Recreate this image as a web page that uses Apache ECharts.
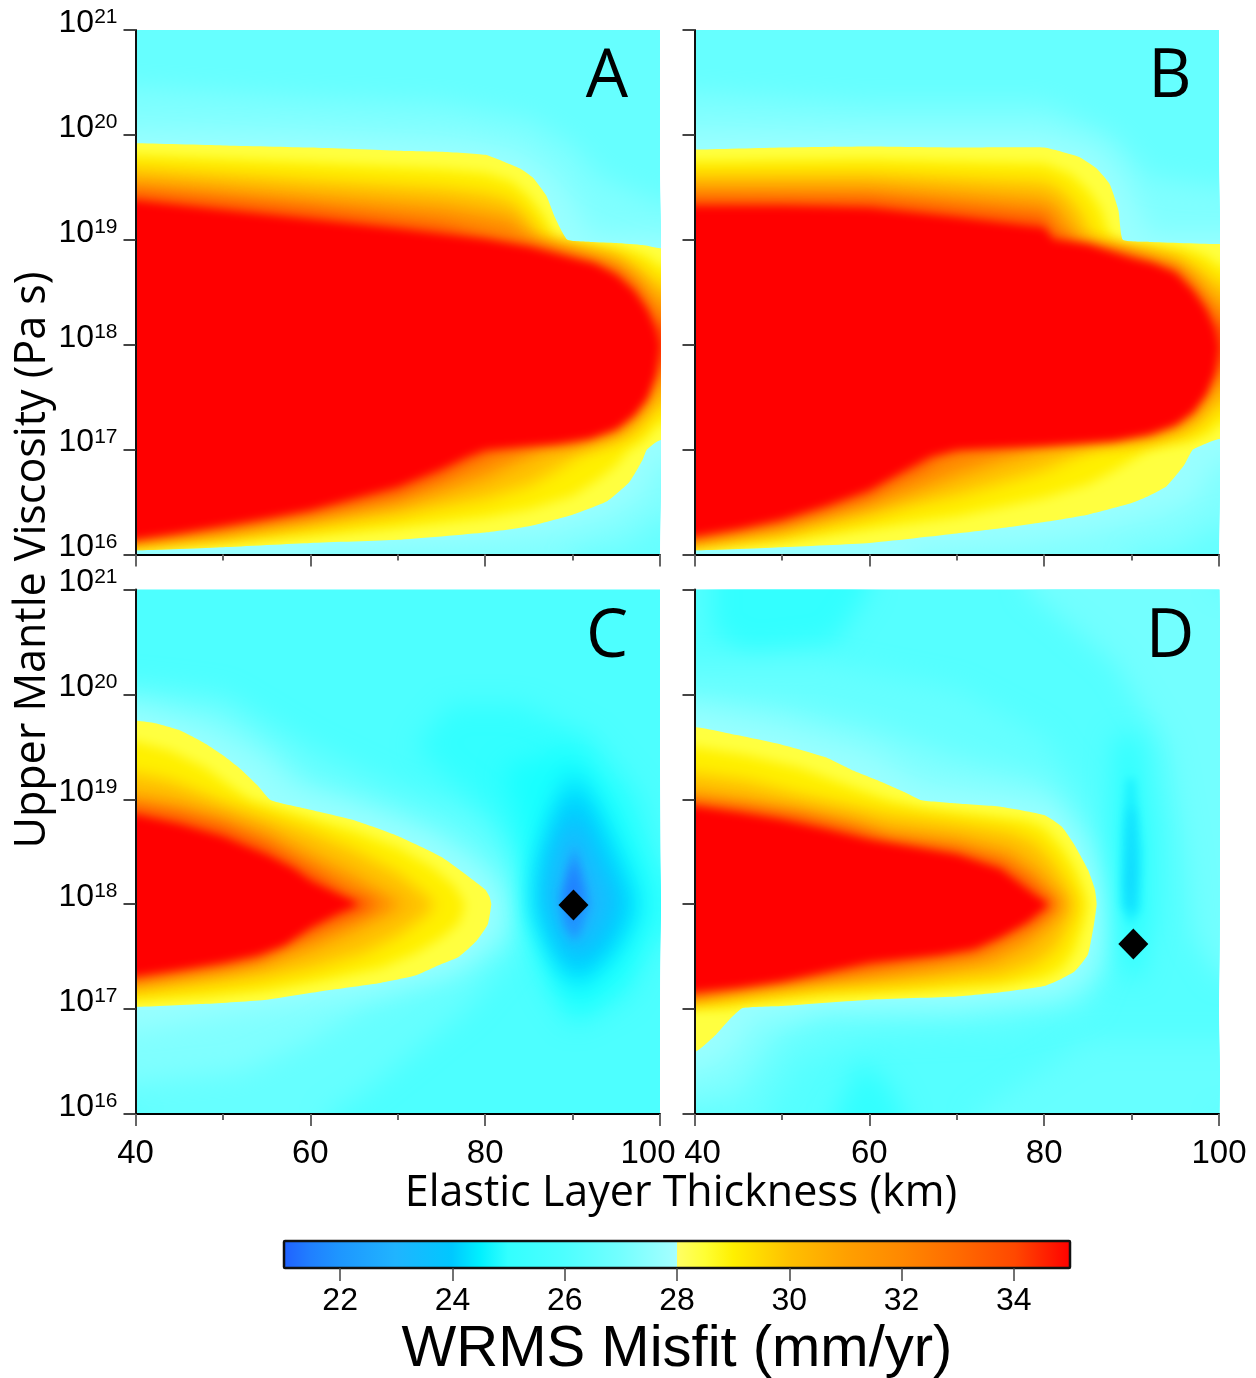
<!DOCTYPE html>
<html><head><meta charset="utf-8">
<style>html,body{margin:0;padding:0;background:#fff}#c{width:1256px;height:1378px}</style>
<script src="https://cdn.jsdelivr.net/npm/echarts@6/dist/echarts.min.js"></script>
</head><body><div id="c"></div>
<script>
// Contours: flat lists of thickness (km), log10 viscosity
const A_bg='#66ffff', B_bg='#66ffff', C_bg='#4dffff', D_bg='#55ffff';

// ----- Panel A
const A_cool=[
 ['#80ffff',[40,20.45,60,20.35,75,20.3,85,20.15,90,19.9,93,19.6,100,19.35,100,16.35,96,16.1,90,16,40,16]],
 ['#99ffff',[40,20.05,60,20.02,78,19.95,84,19.85,88,19.6,90.5,19.3,92,19.05,100,19.03,100,16.9,98,16.55,94,16.35,88,16.2,80,16.12,60,16,40,16]]
];
const A_28=[40,19.92,50,19.9,60,19.88,70,19.85,75,19.84,80,19.81,82,19.75,84,19.68,85.5,19.59,87,19.42,88,19.21,89.4,19,92,18.98,95,18.97,98,18.95,100,18.92,100,17.09,98.5,17,98,16.9,96.5,16.69,94,16.51,90,16.38,85,16.27,80,16.21,70,16.14,60,16.11,50,16.07,40,16.04];
const A_29=[40,19.81,60,19.74,75,19.68,80,19.64,83,19.56,85,19.42,87,19.2,88,19,92,18.96,96,18.92,98.5,18.85,100,18.75,100,17.25,98,17.07,96.5,17,95,16.85,93,16.72,90,16.56,85,16.43,80,16.35,70,16.25,60,16.17,50,16.11,40,16.06];
const A_30=[40,19.69,60,19.58,75,19.5,80,19.45,83,19.38,85,19.22,86.5,19.02,90,18.94,95,18.86,98,18.72,100,18.58,100,17.42,97,17.15,94,17.05,91,16.96,88,16.8,85,16.66,80,16.53,75,16.45,70,16.37,60,16.26,50,16.16,40,16.09];
const A_32=[40,19.56,60,19.42,75,19.32,80,19.25,83,19.2,85,19.05,87,18.97,92,18.88,95,18.8,97,18.68,98.5,18.55,100,18.4,100,17.62,98.5,17.4,97,17.27,95,17.14,92,17.07,87,17.02,84,16.9,80,16.74,75,16.6,70,16.48,60,16.33,50,16.2,40,16.11];
const A_34=[40,19.45,60,19.29,75,19.14,80,19.05,83,19,87,18.93,90,18.85,93,18.77,95,18.7,97,18.56,98.5,18.4,99.5,18.25,100,18.2,100,17.8,99.5,17.75,98.5,17.53,97,17.36,95,17.22,90,17.07,85,17.03,81,16.98,78,16.87,75,16.74,70,16.58,60,16.39,50,16.25,40,16.14];
const A_35=[40,19.37,50,19.28,60,19.19,70,19.1,80,19,85,18.93,90,18.82,92.5,18.77,95,18.66,97,18.51,98.5,18.33,99.5,18.15,100,18,99.5,17.71,98.5,17.49,97,17.33,95,17.2,92,17.11,88,17.06,85,17.04,80,17,78,16.94,75,16.82,70,16.65,65,16.54,60,16.43,55,16.35,50,16.28,45,16.21,40,16.15];

// ----- Panel B
const B_cool=[
 ['#80ffff',[40,20.4,60,20.3,80,20.3,88,20,92,19.6,100,19.5,100,16.3,95,16.05,90,16,40,16]],
 ['#99ffff',[40,20.05,60,20.03,80,20.03,86,19.88,89,19.6,91,19.25,92,19.05,100,19.05,100,16.9,97,16.5,92,16.35,85,16.2,78,16.1,65,16,40,16]]
];
const B_28=[40,19.86,50,19.88,60,19.89,70,19.88,80,19.88,82,19.84,84,19.79,86,19.68,87.5,19.53,88.5,19.28,89,19,92,18.98,100,18.96,100,17.1,98,17.04,97,17,96,16.85,94,16.65,92,16.56,90,16.49,85,16.38,80,16.31,75,16.25,70,16.2,60,16.11,50,16.07,40,16.04];
const B_29=[40,19.75,60,19.77,80,19.73,83,19.63,85,19.48,86.5,19.3,87.5,19.05,89,18.96,92,18.95,96,18.92,98.5,18.85,100,18.75,100,17.25,99,17.15,97,17.08,94,17.04,92,17,90,16.9,88,16.8,85,16.67,80,16.54,70,16.36,60,16.24,50,16.12,40,16.06];
const B_30=[40,19.63,60,19.64,80,19.56,82,19.48,84,19.3,85.5,19.05,87,18.95,90,18.92,95,18.85,98,18.72,100,18.58,100,17.42,98,17.25,96,17.15,92,17.08,86,17.02,83,16.92,80,16.8,75,16.68,70,16.56,65,16.47,60,16.36,55,16.27,50,16.18,40,16.09];
const B_32=[40,19.51,60,19.51,80,19.38,81.5,19.3,83,19.12,84,18.98,88,18.93,92,18.86,95,18.78,97,18.66,98.5,18.52,100,18.38,100,17.62,98.5,17.44,97,17.3,95,17.2,92,17.12,88,17.08,80,17.02,75,16.9,70,16.76,65,16.6,60,16.46,55,16.36,50,16.25,40,16.12];
const B_34=[40,19.4,60,19.39,80,19.22,81,19.08,83,19,87,18.92,90,18.85,93,18.76,95,18.72,97,18.55,98.5,18.4,100,18.2,100,17.8,98.5,17.56,97,17.39,95,17.26,92,17.17,88,17.11,80,17.06,71,17,68,16.93,66,16.82,63,16.7,60,16.56,55,16.42,50,16.3,40,16.15];
const B_35=[40,19.32,50,19.32,60,19.3,70,19.21,78,19.13,80,19.11,81,19,85,18.95,90,18.82,92.5,18.77,95,18.68,97,18.51,98.5,18.33,99.5,18.15,100,17.98,99.5,17.73,98.5,17.53,97,17.36,95,17.24,92,17.15,88,17.09,80,17.04,70,17,67,16.94,65,16.85,60,16.62,55,16.47,50,16.34,45,16.25,40,16.18];

// ----- Panel C
const C_cool=[
 ['#66ffff',[40,20.1,50,20,60,19.5,70,19.1,78,18.9,84,18.4,85,18,84,17.6,78,17,72,16.6,66,16.2,62,16,40,16]],
 ['#80ffff',[40,19.95,50,19.8,56,19.45,60,19.15,70,18.85,78,18.5,82.5,18.1,82,17.7,76,17.3,66,17,60,16.7,52,16.4,40,16.3]],
 ['#99ffff',[40,19.85,48,19.65,54,19.4,58,19.1,66,18.9,74,18.65,80,18.3,82,18,81.5,17.7,77,17.4,68,17.2,58,17.05,50,16.95,40,16.8]],
 ['#33ffff',[76,19.9,84,19.9,92,19.6,98,19,100,18.3,100,17.7,96,17.1,90,16.85,87,17.2,85,17.9,84.3,18.4,82,18.8,76,19.2,72,19.5]],
 ['#1affff',[82,19.3,90,19.5,95,19,98.5,18.3,98.8,17.9,96,17.3,90.5,16.95,88,17.3,85.5,17.9,85,18.5]],
 ['#00e0ff',[90,19.3,93,18.9,96,18.35,97.5,18,96,17.7,93,17.4,90.3,17.2,88,17.5,86,17.9,86,18.3,87.5,18.8]],
 ['#00c8ff',[90,19.1,92.5,18.7,95,18.2,96,18,94,17.6,90.3,17.35,88,17.6,86.5,18,87,18.45,88.5,18.8]],
 ['#20b8ff',[90,18.85,92,18.5,94.5,18.05,93,17.75,90.2,17.5,88.5,17.75,87,18.05,88,18.45]],
 ['#2098ff',[90.2,18.55,91.5,18.2,92,18,91,17.75,90.2,17.65,89,17.8,88.5,18.05,89.3,18.3]],
 ['#2080ff',[90.1,18.4,91,18.1,90,17.8,89.2,18.1]]
];
const C_28=[40,19.75,42,19.73,45,19.66,48,19.53,50,19.42,52,19.29,54,19.13,55.5,18.99,60,18.9,65,18.8,70,18.65,75,18.45,78,18.27,80,18.14,80.5,18.07,80.7,18,80.3,17.81,79,17.65,77,17.5,75,17.43,72,17.32,68,17.25,62,17.18,55,17.09,48,17.05,40,17.02];
const C_29=[40,19.55,44,19.46,48,19.3,51,19.12,53,19,60,18.82,65,18.7,70,18.54,74,18.35,76.5,18.17,77.7,18,77,17.82,75,17.68,72,17.53,68,17.39,62,17.28,55,17.17,48,17.11,40,17.07];
const C_30=[40,19.25,44,19.18,48,19.05,50,18.98,55,18.84,60,18.7,65,18.52,70,18.3,73,18.1,74.3,18,73,17.88,70,17.7,66,17.53,60,17.38,54,17.28,48,17.22,40,17.15];
const C_32=[40,19.03,45,18.96,50,18.85,55,18.7,60,18.48,65,18.27,69,18.07,70.6,18,68,17.88,64,17.72,60,17.58,55,17.44,50,17.36,45,17.3,40,17.24];
const C_34=[40,18.93,45,18.85,50,18.74,55,18.57,60,18.33,64,18.13,67.6,18,65,17.9,62,17.8,58,17.64,54,17.48,50,17.41,45,17.35,40,17.28];
const C_35=[40,18.85,45,18.76,50,18.64,55,18.47,58,18.34,60,18.22,62,18.14,65,18.02,65.5,18,63,17.91,60,17.78,57,17.61,54,17.52,50,17.45,45,17.38,40,17.32];

// ----- Panel D
const D_cool=[
 ['#73ffff',[78,21,100,21,100,17.3,97,17.7,96,18.5,94,19.5,88,20.3]],
 ['#66ffff',[72,16,100,16,100,16.7,85,16.7]],
 ['#33ffff',[48,21,60,21,56,20.5,46,20.4,42,20.6,42,21]],
 ['#33ffff',[56,16,64,16,62,16.3,59,16.5]],
 ['#66ffff',[40,20.3,55,20.3,70,20.05,80,19.6,85,19,88,18.3,88,17.6,85,17,75,16.8,60,16.75,52,16.5,48,16,40,16]],
 ['#80ffff',[40,20,50,19.9,60,19.7,70,19.4,80,19.2,85,18.6,87.5,18,86.8,17.4,83,17.1,70,16.98,55,16.95,50,16.75,45,16.2,40,16.1]],
 ['#99ffff',[40,19.85,50,19.7,60,19.45,66,19.15,75,19.05,81,18.95,84,18.6,86.5,18.1,86.3,17.7,84.5,17.3,81,17.15,70,17.05,55,17.03,47,16.9,44,16.55,40,16.4]],
 ['#33ffff',[88,19.6,91,19.6,92.5,18.7,92.5,17.9,91,17.3,89,17.3,88,18,87.7,18.8]],
 ['#1af0ff',[89.5,19.2,90.3,19.2,91.2,18.5,91,17.95,89.8,17.8,88.8,18,88.9,18.7]],
 ['#10d8ff',[89.8,18.9,90.2,18.9,90.5,18.3,90.2,17.95,89.6,17.95,89.3,18.2]]
];
const D_28=[40,19.69,45,19.61,50,19.52,55,19.4,58,19.28,61,19.18,64,19.07,66,18.99,70,18.96,75,18.93,80,18.85,82,18.74,83.5,18.56,85,18.33,85.8,18.14,86,18,85.7,17.81,85,17.52,83.5,17.36,82,17.29,80,17.22,75,17.16,70,17.12,60,17.09,50,17.03,45.5,17.01,44,16.9,42.5,16.76,40,16.59];
const D_29=[40,19.5,46,19.42,52,19.3,58,19.12,62,19,66,18.92,72,18.86,78,18.8,80,18.73,82,18.55,83.5,18.35,84.5,18.15,85,18,84.5,17.8,83.5,17.55,82,17.38,80,17.29,75,17.22,65,17.16,55,17.11,47,17.05,44,17,40,17];
const D_30=[40,19.25,46,19.18,52,19.05,56,18.98,62,18.87,70,18.78,76,18.7,79,18.6,81,18.42,82.8,18.18,83.7,18,83,17.82,81.5,17.58,79,17.42,75,17.31,65,17.24,55,17.2,47,17.13,40,17.07];
const D_32=[40,19.05,46,18.98,52,18.9,58,18.8,62,18.7,70,18.62,76,18.5,79,18.33,81,18.15,82.5,18,81,17.84,78,17.62,74,17.46,68,17.38,60,17.3,52,17.24,46,17.17,40,17.1];
const D_34=[40,18.98,46,18.92,52,18.84,58,18.72,62,18.62,70,18.52,75,18.4,78,18.24,81.3,18,79,17.83,76,17.7,72,17.54,66,17.47,60,17.4,52,17.28,46,17.21,40,17.13];
const D_35=[40,18.93,45,18.87,50,18.8,55,18.71,60,18.61,65,18.54,70,18.47,75,18.33,78,18.14,80,18.02,80.5,18,78,17.83,75,17.69,72,17.58,68,17.52,60,17.45,55,17.36,50,17.27,45,17.21,40,17.17];

const warmColors=['#ffff40','#fff000','#ffc000','#ff8c00','#ff5000','#ff0000'];
const warmBlur=[0,12,16,16,14,8];
const bestC=[90.1,9.8e17], bestD=[90.2,4.17e17];
const xTicks=[40,60,80,100];
const yMin=1e16, yMax=1e21;
const cbStops=[21,21.5,22,23,24,24.5,25,26,27,28,28,28.5,29,30,31,32,33,34,35];
const cbColors=['#2060ff','#2080ff','#1e96ff','#20b4ff','#00c8ff','#00f0ff','#33ffff','#4dffff','#73ffff','#a6ffff','#ffff66','#ffff33','#fff000','#ffc000','#ffa000','#ff8800','#ff6a00','#ff4800','#ff0000'];
const cbTicks=[22,24,26,28,30,32,34];

// A contour that runs along a panel edge is continued past it, so that softening does not fade at the edge.
function toPoints(f){
 const o=[],n=f.length/2;
 for(let i=0;i<n;i++){
  const x=f[2*i],e=f[2*i+1],j=(i+1)%n,x2=f[2*j],e2=f[2*j+1];
  o.push([x,Math.pow(10,e)]);
  if(x===40&&x2===40){o.push([25,Math.pow(10,e)],[25,Math.pow(10,e2)]);}
  else if(x===100&&x2===100){o.push([115,Math.pow(10,e)],[115,Math.pow(10,e2)]);}
  else if(e===16&&e2===16){o.push([x,Math.pow(10,15.4)],[x2,Math.pow(10,15.4)]);}
  else if(e===21&&e2===21){o.push([x,Math.pow(10,21.6)],[x2,Math.pow(10,21.6)]);}
 }
 return o;
}
const panels=[
 {name:'A',bg:A_bg,cool:A_cool,warm:[A_28,A_29,A_30,A_32,A_34,A_35],left:135.5,top:30,dx:0},
 {name:'B',bg:B_bg,cool:B_cool,warm:[B_28,B_29,B_30,B_32,B_34,B_35],left:694.5,top:30,dx:4},
 {name:'C',bg:C_bg,cool:C_cool,warm:[C_28,C_29,C_30,C_32,C_34,C_35],left:135.5,top:589.5,dx:0},
 {name:'D',bg:D_bg,cool:D_cool,warm:[D_28,D_29,D_30,D_32,D_34,D_35],left:694.5,top:589.5,dx:4}
];
const W=524.5,H=524.5,OFF=4000;
const font='"Liberation Sans"', font2='"Open Sans"';
const grids=[],xAxes=[],yAxes=[],series=[],graphics=[];
panels.forEach((p,i)=>{
 const bottom=i>=2, left=i%2===0;
 const xl={fontFamily:font,fontSize:33,color:'#000'};
 grids.push({left:p.left,top:p.top,width:W,height:H,show:true,backgroundColor:p.bg,borderWidth:0,containLabel:false});
 xAxes.push({gridIndex:i,type:'value',min:40,max:100,interval:20,z:6,
  axisLine:{show:true,onZero:false,lineStyle:{color:'#000',width:2}},
  axisTick:{show:true,length:12,lineStyle:{color:'#666',width:2}},
  minorTick:{show:true,splitNumber:2,length:6,lineStyle:{color:'#666',width:2}},
  splitLine:{show:false},minorSplitLine:{show:false},
  axisLabel:{show:bottom,margin:23,hideOverlap:false,
   formatter:v=>{
    if(i===2&&v===100) return '{r|'+v+'}';
    if(i===3&&v===40) return '{l|'+v+'}';
    return '{n|'+v+'}';
   },
   rich:{n:xl,r:Object.assign({padding:[0,24,0,0]},xl),l:Object.assign({padding:[0,0,0,16]},xl)}}});
 yAxes.push({gridIndex:i,type:'log',logBase:10,min:yMin,max:yMax,z:6,
  axisLine:{show:true,onZero:false,lineStyle:{color:'#111',width:2}},
  axisTick:{show:true,length:12,lineStyle:{color:'#444',width:2}},
  minorTick:{show:false},splitLine:{show:false},minorSplitLine:{show:false},
  axisLabel:{show:left,margin:18,hideOverlap:false,
   formatter:v=>'{b|10}{s|'+Math.round(Math.log10(v))+'}',
   rich:{b:{fontFamily:font,fontSize:32,color:'#000',verticalAlign:'top',lineHeight:46},
         s:{fontFamily:font,fontSize:21,color:'#000',verticalAlign:'top',lineHeight:46}}}});
 const polys=[];
 p.cool.forEach((c,k)=>{
  // small inner blobs get less softening than the broad field shapes
  polys.push({fill:c[0],pts:toPoints(c[1]),blur:(c[0]==='#2080ff'||c[0]==='#2098ff'||c[0]==='#10d8ff'||c[0]==='#1af0ff')?10:26});
 });
 const outer=toPoints(p.warm[0]);
 p.warm.forEach((w,k)=>polys.push({fill:warmColors[k],pts:toPoints(w),blur:warmBlur[k],clip:k>0,smooth:k===0?0.15:0}));
 series.push({type:'custom',xAxisIndex:i,yAxisIndex:i,silent:true,clip:true,z:3,animation:false,
  data:polys.map((_,k)=>[40,yMin,k]),encode:{x:0,y:1},
  renderItem:(params,api)=>{
   const k=api.value(2),d=polys[k];
   const shift=d.blur?OFF:0;
   const el={type:'polygon',shape:{smooth:d.smooth||0,points:d.pts.map(q=>{const c=api.coord(q);return [c[0]-shift,c[1]];})},
    style:d.blur?{fill:d.fill,shadowBlur:d.blur,shadowColor:d.fill,shadowOffsetX:OFF}:{fill:d.fill}};
   if(d.clip) el.clipPath={type:'polygon',shape:{smooth:0.15,points:outer.map(q=>api.coord(q))}};
   return el;
  }});
 const best=i===2?bestC:i===3?bestD:null;
 if(best) series.push({type:'scatter',xAxisIndex:i,yAxisIndex:i,symbol:'diamond',symbolSize:[30,31],z:8,silent:true,
  itemStyle:{color:'#000',opacity:1},data:[best],animation:false});
 graphics.push({type:'text',x:p.left+471.5+p.dx,y:p.top+48,z:20,style:{text:p.name,fontFamily:font2,fontSize:67,fill:'#000',align:'center',verticalAlign:'middle'}});
});
// colour bar
const cb=panels.length;
grids.push({left:284,top:1241,width:786,height:27,show:false,containLabel:false});
xAxes.push({gridIndex:cb,type:'value',min:21,max:35,z:6,
 axisLine:{show:false},splitLine:{show:false},minorTick:{show:false},
 axisTick:{show:true,length:13,lineStyle:{color:'#444',width:1.5},customValues:cbTicks},
 axisLabel:{show:true,fontFamily:font,fontSize:32,color:'#000',margin:17,customValues:cbTicks,hideOverlap:false}});
yAxes.push({gridIndex:cb,type:'value',min:0,max:1,show:false,splitLine:{show:false}});
series.push({type:'custom',xAxisIndex:cb,yAxisIndex:cb,silent:true,animation:false,z:3,clip:false,
 data:[[21,0,35,1]],encode:{x:[0,2],y:[1,3]},
 renderItem:(params,api)=>{
  const a=api.coord([api.value(0),api.value(1)]),b=api.coord([api.value(2),api.value(3)]);
  const s=api.value(2)-api.value(0);
  return {type:'rect',shape:{x:a[0],y:b[1],width:b[0]-a[0],height:a[1]-b[1],r:1},
   style:{stroke:'#111',lineWidth:2.5,
    fill:new echarts.graphic.LinearGradient(0,0,1,0,cbStops.map((v,i)=>({offset:(v-21)/s,color:cbColors[i]})))}};
 }});
graphics.push(
 {type:'text',x:681,y:1194,z:20,style:{text:'Elastic Layer Thickness (km)',fontFamily:font2,fontSize:43,fill:'#000',align:'center',verticalAlign:'middle'}},
 {type:'text',x:33,y:560,rotation:Math.PI/2,z:20,style:{text:'Upper Mantle Viscosity (Pa s)',fontFamily:font2,fontSize:43,fill:'#000',align:'center',verticalAlign:'middle'}},
 {type:'text',x:677,y:1350,z:20,style:{text:'WRMS Misfit (mm/yr)',fontFamily:font,fontSize:58,fill:'#000',align:'center',verticalAlign:'middle'}}
);
const chart=echarts.init(document.getElementById('c'),null,{renderer:'canvas',width:1256,height:1378});
chart.setOption({animation:false,backgroundColor:'#fff',grid:grids,xAxis:xAxes,yAxis:yAxes,series,graphic:graphics});
</script></body></html>
